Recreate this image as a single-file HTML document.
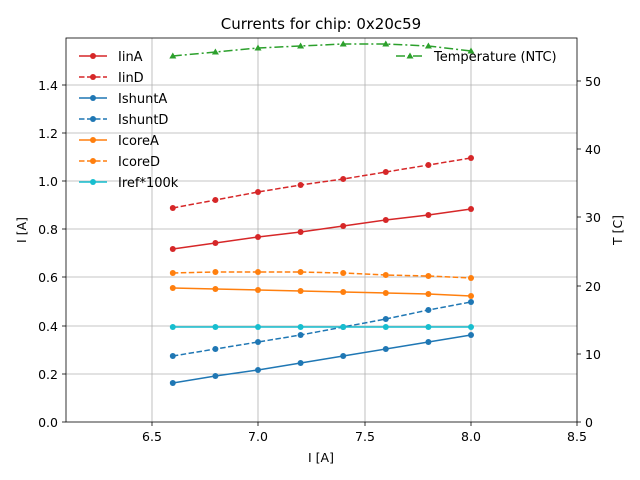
<!DOCTYPE html>
<html><head><meta charset="utf-8"><style>body{margin:0;background:#fff}svg{display:block;font-family:"DejaVu Sans","Liberation Sans",sans-serif}</style></head><body>
<svg width="640" height="480" viewBox="0 0 640 480" xmlns="http://www.w3.org/2000/svg">
<rect width="640" height="480" fill="#fff"/>
<g stroke="#b0b0b0" stroke-width="0.8">
<line x1="152" y1="38" x2="152" y2="422"/><line x1="258" y1="38" x2="258" y2="422"/><line x1="365" y1="38" x2="365" y2="422"/><line x1="471" y1="38" x2="471" y2="422"/>
<line x1="66" y1="374" x2="577" y2="374"/><line x1="66" y1="326" x2="577" y2="326"/><line x1="66" y1="277" x2="577" y2="277"/><line x1="66" y1="229" x2="577" y2="229"/><line x1="66" y1="181" x2="577" y2="181"/><line x1="66" y1="133" x2="577" y2="133"/><line x1="66" y1="85" x2="577" y2="85"/>
</g>
<g fill="none" stroke-width="1.5">
<polyline stroke="#d62728" points="172.8,249 215.4,243 258,237 300.6,232 343.2,226 385.8,220 428.4,215 471,209"/>
<polyline stroke="#d62728" stroke-dasharray="5.5,2.5" points="172.8,208 215.4,200 258,192 300.6,185 343.2,179 385.8,172 428.4,165 471,158"/>
<polyline stroke="#1f77b4" points="172.8,383 215.4,376 258,370 300.6,363 343.2,356 385.8,349 428.4,342 471,335"/>
<polyline stroke="#1f77b4" stroke-dasharray="5.5,2.5" points="172.8,356 215.4,349 258,342 300.6,335 343.2,327 385.8,319 428.4,310 471,302"/>
<polyline stroke="#ff7f0e" points="172.8,288 215.4,289 258,290 300.6,291 343.2,292 385.8,293 428.4,294 471,296"/>
<polyline stroke="#ff7f0e" stroke-dasharray="5.5,2.5" points="172.8,273 215.4,272 258,272 300.6,272 343.2,273 385.8,275 428.4,276 471,278"/>
<polyline stroke="#17becf" points="172.8,327 471,327"/>
<polyline stroke="#2ca02c" stroke-dasharray="9,3,2,3" points="172.8,56 215.4,52 258,48 300.6,46 343.2,44 385.8,44 428.4,46 471,51"/>
</g>
<g>
<g fill="#d62728"><circle cx="172.8" cy="249" r="3"/><circle cx="215.4" cy="243" r="3"/><circle cx="258" cy="237" r="3"/><circle cx="300.6" cy="232" r="3"/><circle cx="343.2" cy="226" r="3"/><circle cx="385.8" cy="220" r="3"/><circle cx="428.4" cy="215" r="3"/><circle cx="471" cy="209" r="3"/>
<circle cx="172.8" cy="208" r="3"/><circle cx="215.4" cy="200" r="3"/><circle cx="258" cy="192" r="3"/><circle cx="300.6" cy="185" r="3"/><circle cx="343.2" cy="179" r="3"/><circle cx="385.8" cy="172" r="3"/><circle cx="428.4" cy="165" r="3"/><circle cx="471" cy="158" r="3"/></g>
<g fill="#1f77b4"><circle cx="172.8" cy="383" r="3"/><circle cx="215.4" cy="376" r="3"/><circle cx="258" cy="370" r="3"/><circle cx="300.6" cy="363" r="3"/><circle cx="343.2" cy="356" r="3"/><circle cx="385.8" cy="349" r="3"/><circle cx="428.4" cy="342" r="3"/><circle cx="471" cy="335" r="3"/>
<circle cx="172.8" cy="356" r="3"/><circle cx="215.4" cy="349" r="3"/><circle cx="258" cy="342" r="3"/><circle cx="300.6" cy="335" r="3"/><circle cx="343.2" cy="327" r="3"/><circle cx="385.8" cy="319" r="3"/><circle cx="428.4" cy="310" r="3"/><circle cx="471" cy="302" r="3"/></g>
<g fill="#ff7f0e"><circle cx="172.8" cy="288" r="3"/><circle cx="215.4" cy="289" r="3"/><circle cx="258" cy="290" r="3"/><circle cx="300.6" cy="291" r="3"/><circle cx="343.2" cy="292" r="3"/><circle cx="385.8" cy="293" r="3"/><circle cx="428.4" cy="294" r="3"/><circle cx="471" cy="296" r="3"/>
<circle cx="172.8" cy="273" r="3"/><circle cx="215.4" cy="272" r="3"/><circle cx="258" cy="272" r="3"/><circle cx="300.6" cy="272" r="3"/><circle cx="343.2" cy="273" r="3"/><circle cx="385.8" cy="275" r="3"/><circle cx="428.4" cy="276" r="3"/><circle cx="471" cy="278" r="3"/></g>
<g fill="#17becf"><circle cx="172.8" cy="327" r="3"/><circle cx="215.4" cy="327" r="3"/><circle cx="258" cy="327" r="3"/><circle cx="300.6" cy="327" r="3"/><circle cx="343.2" cy="327" r="3"/><circle cx="385.8" cy="327" r="3"/><circle cx="428.4" cy="327" r="3"/><circle cx="471" cy="327" r="3"/></g>
<g fill="#2ca02c"><path d="M172.8,52.5l3.5,6h-7z"/><path d="M215.4,48.5l3.5,6h-7z"/><path d="M258,44.5l3.5,6h-7z"/><path d="M300.6,42.5l3.5,6h-7z"/><path d="M343.2,40.5l3.5,6h-7z"/><path d="M385.8,40.5l3.5,6h-7z"/><path d="M428.4,42.5l3.5,6h-7z"/><path d="M471,47.5l3.5,6h-7z"/></g>
</g>
<rect x="66" y="38" width="511" height="384" fill="none" stroke="#000" stroke-width="0.8"/>
<g stroke="#000" stroke-width="0.8">
<line x1="152" y1="422" x2="152" y2="426"/><line x1="258" y1="422" x2="258" y2="426"/><line x1="365" y1="422" x2="365" y2="426"/><line x1="471" y1="422" x2="471" y2="426"/><line x1="577" y1="422" x2="577" y2="426"/>
<line x1="62" y1="422" x2="66" y2="422"/><line x1="62" y1="374" x2="66" y2="374"/><line x1="62" y1="326" x2="66" y2="326"/><line x1="62" y1="277" x2="66" y2="277"/><line x1="62" y1="229" x2="66" y2="229"/><line x1="62" y1="181" x2="66" y2="181"/><line x1="62" y1="133" x2="66" y2="133"/><line x1="62" y1="85" x2="66" y2="85"/>
<line x1="577" y1="422" x2="581" y2="422"/><line x1="577" y1="354" x2="581" y2="354"/><line x1="577" y1="286" x2="581" y2="286"/><line x1="577" y1="217" x2="581" y2="217"/><line x1="577" y1="149" x2="581" y2="149"/><line x1="577" y1="81" x2="581" y2="81"/>
</g>
<g font-size="12.5" fill="#000">
<g text-anchor="middle"><text x="152" y="441">6.5</text><text x="258" y="441">7.0</text><text x="365" y="441">7.5</text><text x="471" y="441">8.0</text><text x="577" y="441">8.5</text></g>
<g text-anchor="end"><text x="58" y="427">0.0</text><text x="58" y="379">0.2</text><text x="58" y="331">0.4</text><text x="58" y="282">0.6</text><text x="58" y="234">0.8</text><text x="58" y="186">1.0</text><text x="58" y="138">1.2</text><text x="58" y="90">1.4</text></g>
<g><text x="585" y="427">0</text><text x="585" y="359">10</text><text x="585" y="291">20</text><text x="585" y="222">30</text><text x="585" y="154">40</text><text x="585" y="86">50</text></g>
<text x="321" y="462" text-anchor="middle">I [A]</text>
<text transform="translate(26,230) rotate(-90)" text-anchor="middle">I [A]</text>
<text transform="translate(622,230) rotate(-90)" text-anchor="middle">T [C]</text>
<text x="321" y="29" text-anchor="middle" font-size="15">Currents for chip: 0x20c59</text>
</g>
<g font-size="13" fill="#000">
<g stroke-width="1.5">
<line x1="79" y1="56" x2="107" y2="56" stroke="#d62728"/><circle cx="93" cy="56" r="3" fill="#d62728"/>
<line x1="79" y1="77" x2="107" y2="77" stroke="#d62728" stroke-dasharray="5.5,2.5"/><circle cx="93" cy="77" r="3" fill="#d62728"/>
<line x1="79" y1="98" x2="107" y2="98" stroke="#1f77b4"/><circle cx="93" cy="98" r="3" fill="#1f77b4"/>
<line x1="79" y1="119" x2="107" y2="119" stroke="#1f77b4" stroke-dasharray="5.5,2.5"/><circle cx="93" cy="119" r="3" fill="#1f77b4"/>
<line x1="79" y1="140" x2="107" y2="140" stroke="#ff7f0e"/><circle cx="93" cy="140" r="3" fill="#ff7f0e"/>
<line x1="79" y1="161" x2="107" y2="161" stroke="#ff7f0e" stroke-dasharray="5.5,2.5"/><circle cx="93" cy="161" r="3" fill="#ff7f0e"/>
<line x1="79" y1="182" x2="107" y2="182" stroke="#17becf"/><circle cx="93" cy="182" r="3" fill="#17becf"/>
<line x1="396" y1="56" x2="424" y2="56" stroke="#2ca02c" stroke-dasharray="9,3,2,3"/><path d="M410,52.5l3.5,6h-7z" fill="#2ca02c"/>
</g>
<text x="118" y="61">IinA</text><text x="118" y="82">IinD</text><text x="118" y="103">IshuntA</text><text x="118" y="124">IshuntD</text><text x="118" y="145">IcoreA</text><text x="118" y="166">IcoreD</text><text x="118" y="187">Iref*100k</text>
<text x="434" y="61">Temperature (NTC)</text>
</g>
</svg>
</body></html>
